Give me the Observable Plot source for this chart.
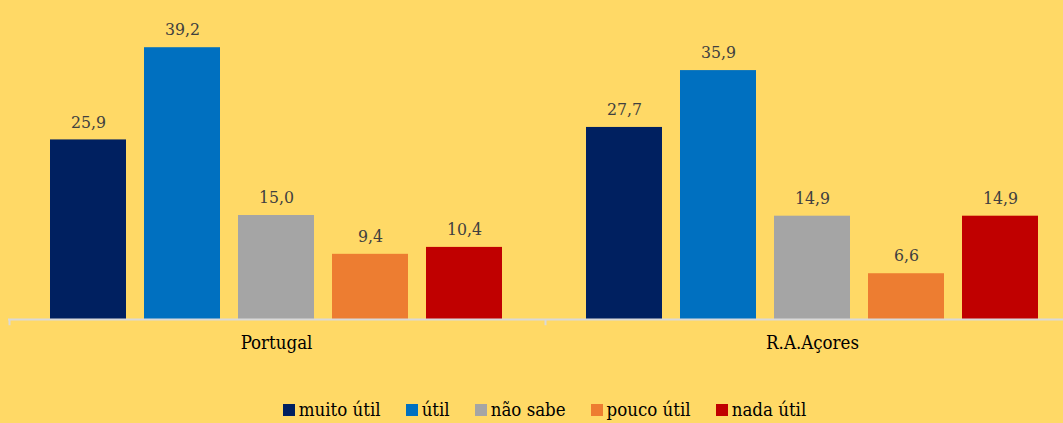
<!DOCTYPE html>
<html>
<head>
<meta charset="utf-8">
<script src="https://cdn.jsdelivr.net/npm/d3@7"></script>
<script src="https://cdn.jsdelivr.net/npm/@observablehq/plot@0.6"></script>
<style>
  html, body { margin: 0; padding: 0; background: #FFD966; overflow: hidden; width: 1063px; height: 423px; }
  #chart { position: absolute; left: 0; top: 0; width: 1080px; }
  #chart svg { max-width: none !important; font-stretch: condensed; }
  #legend { position: absolute; left: 0; top: 399px; width: 1089px; display: flex; justify-content: center; align-items: center;
    font-family: "DejaVu Serif Condensed", "DejaVu Serif", serif; font-stretch: condensed; font-size: 18.5px; color: #000; }
  #legend .item { display: flex; align-items: center; margin: 0 12.5px; }
  #legend .sw { width: 12px; height: 12px; margin-right: 4px; }
</style>
</head>
<body>
<div id="chart"></div>
<div id="legend"></div>
<script>
const regions = ["Portugal", "R.A.Açores"];
const answers = ["muito útil", "útil", "não sabe", "pouco útil", "nada útil"];
const portugalValues = [25.9, 39.2, 15.0, 9.4, 10.4];
const acoresValues = [27.7, 35.9, 14.9, 6.6, 14.9];
const colors = ["#002060", "#0070C0", "#A5A5A5", "#ED7D31", "#C00000"];

const data = [];
answers.forEach((a, i) => data.push({region: regions[0], answer: a, value: portugalValues[i]}));
answers.forEach((a, i) => data.push({region: regions[1], answer: a, value: acoresValues[i]}));

const fmt = v => v.toFixed(1).replace(".", ",");
const serif = "'DejaVu Serif Condensed', 'DejaVu Serif', serif";

const chart = Plot.plot({
  width: 1080,
  height: 365,
  marginLeft: 8,
  marginRight: 0,
  marginTop: 7,
  marginBottom: 46,
  style: {background: "transparent", fontFamily: serif, fontSize: "18.5px", color: "#000", maxWidth: "none"},
  fx: {domain: regions, padding: 0, label: null, tickSize: 0, tickPadding: 16, axis: "bottom"},
  x: {domain: answers, paddingInner: 0.196, paddingOuter: 0.434, axis: null},
  y: {domain: [0, 45], axis: null},
  color: {domain: answers, range: colors},
  marks: [
    Plot.barY(data, {fx: "region", x: "answer", y: "value", fill: "answer"}),
    Plot.text(data, {fx: "region", x: "answer", y: "value", text: d => fmt(d.value), dy: -18, fontSize: 17.5, fill: "#404040"}),
    Plot.ruleY([0], {stroke: "#d9d9d9", strokeWidth: 2}),
    Plot.ruleX(regions, {fx: d => d, x: () => answers[0], y1: 0, y2: -0.9, dx: -79, stroke: "#d9d9d9", strokeWidth: 2})
  ]
});
chart.style.maxWidth = "none";
document.getElementById("chart").appendChild(chart);

const legend = document.getElementById("legend");
answers.forEach((a, i) => {
  const item = document.createElement("div");
  item.className = "item";
  const sw = document.createElement("div");
  sw.className = "sw";
  sw.style.background = colors[i];
  const lab = document.createElement("span");
  lab.textContent = a;
  item.appendChild(sw);
  item.appendChild(lab);
  legend.appendChild(item);
});
</script>
</body>
</html>
